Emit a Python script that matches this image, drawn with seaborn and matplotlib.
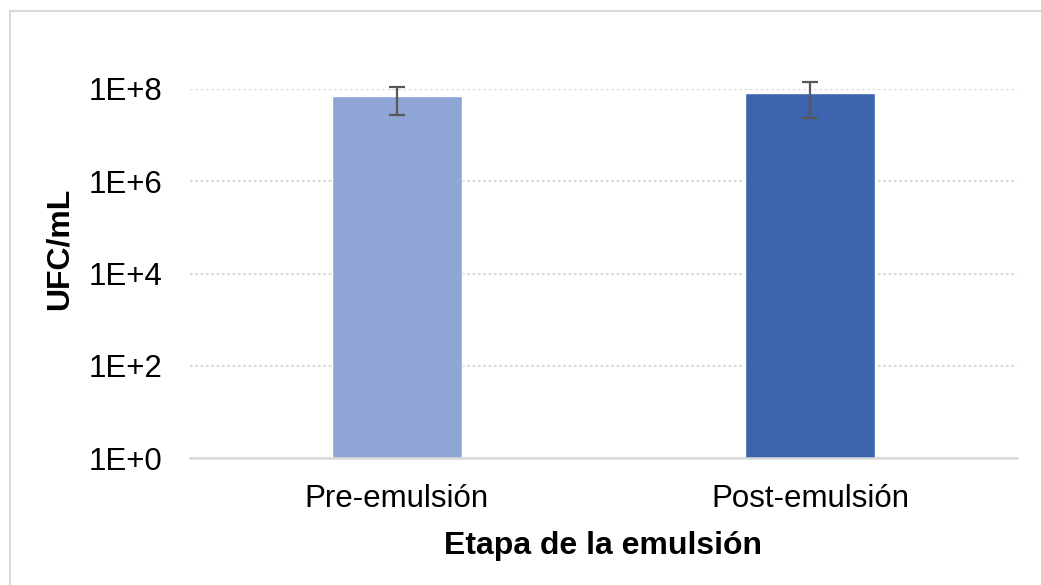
import numpy as np
import pandas as pd
import matplotlib
matplotlib.use("Agg")
import matplotlib.pyplot as plt
from matplotlib.patches import Rectangle
from matplotlib.ticker import FixedLocator, FuncFormatter, NullLocator
import seaborn as sns

# Data
categories = ["Pre-emulsión", "Post-emulsión"]
ufc_means = [7.0e7, 8.2e7]
ufc_errors = [4.3e7, 5.9e7]
bar_colors = ["#8FA5D5", "#3D64AD"]
y_ticks = [1e0, 1e2, 1e4, 1e6, 1e8]

sns.set_theme(style="white")
plt.rcParams["font.family"] = ["Liberation Sans", "DejaVu Sans"]
plt.rcParams["text.color"] = "black"
plt.rcParams["axes.labelcolor"] = "black"

fig = plt.figure(figsize=(10.41, 5.85), dpi=100)
ax = fig.add_axes([190 / 1041, 1 - 458 / 585, (1017 - 190) / 1041, (458 - 89) / 585])

df = pd.DataFrame({"etapa": categories, "ufc": ufc_means})
sns.barplot(data=df, x="etapa", y="ufc", hue="etapa", palette=bar_colors,
            width=0.314, legend=False, ax=ax, errorbar=None, saturation=1)
ax.set_yscale("log")
ax.set_ylim(1e0, 1e8)
ax.set_xlim(-0.5, 1.5)

# Error bars
ax.errorbar(x=np.arange(len(categories)), y=ufc_means, yerr=ufc_errors,
            fmt="none", ecolor="#595959", elinewidth=1.6, capsize=6,
            capthick=1.6, clip_on=False, zorder=5)

# Axes styling
ax.yaxis.set_major_locator(FixedLocator(y_ticks))
ax.yaxis.set_minor_locator(NullLocator())
ax.yaxis.set_major_formatter(FuncFormatter(lambda v, p: f"1E+{int(round(np.log10(v)))}"))
ax.grid(axis="y", which="major", color="#D9D9D9", linestyle=(0, (1.2, 1.2)), linewidth=1.6)
ax.set_axisbelow(True)
for side in ["left", "right", "top"]:
    ax.spines[side].set_visible(False)
ax.spines["bottom"].set_color("#D9D9D9")
ax.spines["bottom"].set_linewidth(1.8)
ax.tick_params(axis="both", length=0, labelsize=22.5, colors="black")
ax.tick_params(axis="y", pad=20)
ax.tick_params(axis="x", pad=19)

ax.set_xlabel("Etapa de la emulsión", fontsize=23, fontweight="bold",
              labelpad=12, color="black")
ax.set_ylabel("UFC/mL", fontsize=23, fontweight="bold", color="black")
ax.yaxis.set_label_coords(-0.140, (458 - 249) / (458 - 89))

# Chart frame
fig.patches.append(Rectangle((9.5 / 1041, -0.1), 1.2, 1.1 - 11.5 / 585,
                             transform=fig.transFigure, fill=False,
                             edgecolor="#D9D9D9", linewidth=1.5))

fig.savefig("out.png", dpi=100)
